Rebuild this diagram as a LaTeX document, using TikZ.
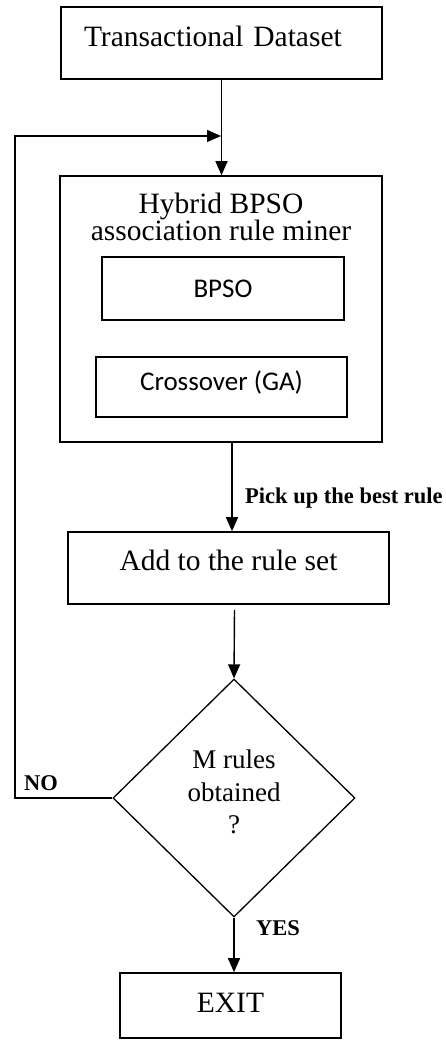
\documentclass[tikz,border=0pt]{standalone}
\usepackage{fontspec}
\setmainfont{Liberation Serif}
\newfontfamily\carlito{Carlito}
\usepackage{tikz}
\usetikzlibrary{shapes.geometric,arrows.meta}

\begin{document}
\begin{tikzpicture}[x=1pt, y=-1pt,
        block/.style={rectangle, draw, line width=1.6pt, inner sep=0pt, font=\fontsize{29.5}{27}\selectfont, text height=20pt},
        inner/.style={rectangle, draw, line width=1.6pt, inner sep=0pt, font=\carlito\fontsize{27}{30}\selectfont},
        decision/.style={diamond, draw, line width=1.3pt, inner sep=0pt, align=center, font=\fontsize{27}{32.5}\selectfont},
        lbl/.style={font=\bfseries\fontsize{22.5}{25}\selectfont, inner sep=0pt},
        flow/.style={->, line width=1.4pt},
        >={Triangle[length=14pt, width=12pt]}
    ]
        \useasboundingbox (0,0) rectangle (445,1040);

        \node[block, minimum width=321pt, minimum height=72pt, text width=275pt, align=left, text depth=12pt] (data) at (221.5, 43) {Transactional Dataset};
        \node[block, minimum width=322pt, minimum height=266pt] (miner) at (221, 309) {};
        \node[inner sep=0pt, align=center, anchor=north, font=\fontsize{29.5}{27}\selectfont] (title) at (221, 193) {Hybrid BPSO\\association rule miner};
        \node[inner, minimum width=242pt, minimum height=63pt] (bpso) at (223, 288.5) {BPSO};
        \node[inner, minimum width=251pt, minimum height=60pt, text depth=13pt] (xover) at (221.5, 387) {Crossover (GA)};
        \node[block, minimum width=321pt, minimum height=72pt, text depth=16pt] (add) at (228.5, 568) {Add to the rule set};
        \node[decision, minimum width=242pt, minimum height=238pt, text depth=12pt] (check) at (234, 798) {M rules\\obtained\\?};
        \node[block, minimum width=221pt, minimum height=65pt, text depth=7pt] (exit) at (230.5, 1005.5) {EXIT};

        \coordinate (join) at (221, 136);
        \coordinate (loop) at (15, 136);

        \draw[flow] (data.south) -- (data.south |- miner.north);
        \draw[flow] ([xshift=11pt]miner.south) -- node[lbl, right, pos=0.62, xshift=12.5pt] {Pick up the best rule} ([xshift=3.5pt]add.north);
        \draw[flow] ([xshift=6pt, yshift=-5pt]add.south) -- (check.north);
        \draw[flow] (check.south) -- node[lbl, right, pos=0.19, xshift=21.5pt] {YES} (check.south |- exit.north);
        \draw[flow] (check.west) -| node[lbl, pos=0.5, anchor=south west, xshift=8.5pt, yshift=7pt] {NO} (loop) -- (join);
    \end{tikzpicture}
\end{document}
